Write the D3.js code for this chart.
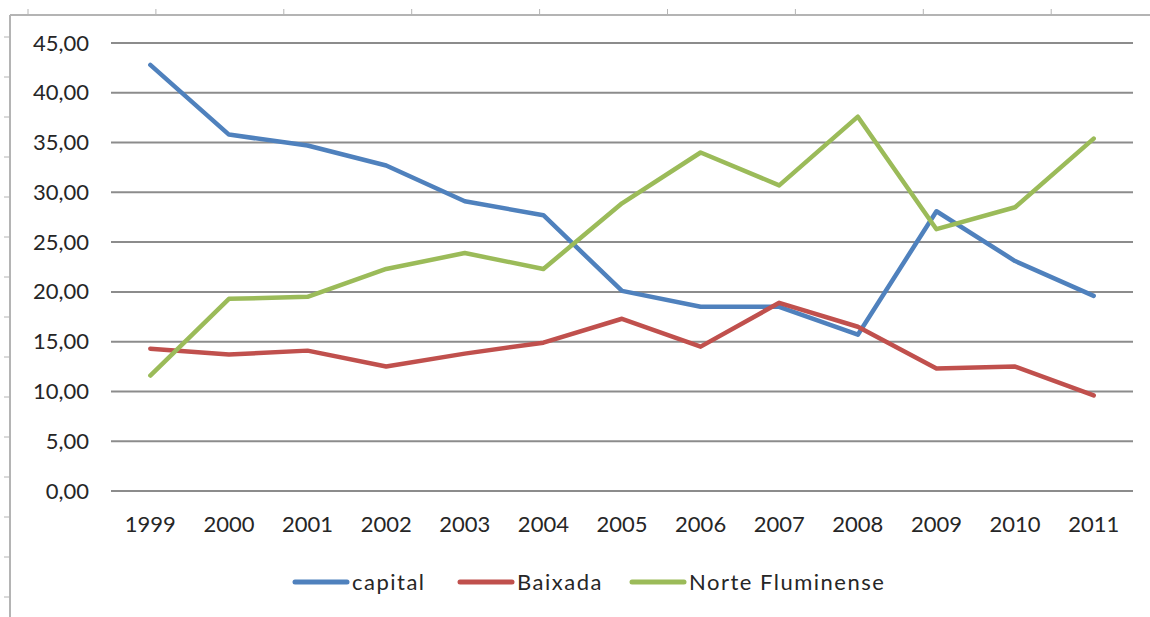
<!DOCTYPE html>
<html>
<head>
<meta charset="utf-8">
<script src="https://cdn.jsdelivr.net/npm/d3@7"></script>
<style>
  body { margin: 0; background: #fff; }
  svg { font-family: Lato, "Open Sans", sans-serif; }
</style>
</head>
<body>
<svg width="1150" height="617"></svg>
<script>
const years = ["1999","2000","2001","2002","2003","2004","2005","2006","2007","2008","2009","2010","2011"];
const capital = [42.8, 35.8, 34.7, 32.7, 29.1, 27.7, 20.1, 18.5, 18.5, 15.7, 28.1, 23.1, 19.6];
const baixada = [14.3, 13.7, 14.1, 12.5, 13.8, 14.9, 17.3, 14.5, 18.9, 16.5, 12.3, 12.5, 9.6];
const norteFluminense = [11.6, 19.3, 19.5, 22.3, 23.9, 22.3, 28.9, 34.0, 30.7, 37.6, 26.3, 28.5, 35.4];
const seriesNames = ["capital", "Baixada", "Norte Fluminense"];
const seriesColors = ["#4f81bd", "#c0504d", "#9bbb59"];
const yTicks = [0, 5, 10, 15, 20, 25, 30, 35, 40, 45];

const svg = d3.select("svg");
const textColor = "#262626";

// moldura tipo planilha
const frame = svg.append("g").attr("stroke", "#b4b4b4").attr("stroke-width", 2);
frame.append("line").attr("x1", 10).attr("x2", 1150).attr("y1", 15).attr("y2", 15);
frame.append("line").attr("x1", 10).attr("x2", 10).attr("y1", 15).attr("y2", 617);
d3.range(28, 1150, 127.9).forEach(x => {
  frame.append("line").attr("x1", x).attr("x2", x).attr("y1", 9).attr("y2", 15).attr("stroke-width", 1);
});
d3.range(37, 617, 40).forEach(y => {
  frame.append("line").attr("x1", 4).attr("x2", 10).attr("y1", y).attr("y2", y).attr("stroke-width", 1);
});

const x = d3.scaleBand().domain(years).range([111, 1133]);
const y = d3.scaleLinear().domain([0, 45]).range([491, 43]);

const ptBR = d3.formatLocale({ decimal: ",", thousands: ".", grouping: [3], currency: ["R$", ""] });
const fmt = ptBR.format(".2f");

// grade horizontal
svg.append("g")
  .selectAll("line")
  .data(yTicks)
  .join("line")
  .attr("x1", 111).attr("x2", 1133)
  .attr("y1", d => y(d)).attr("y2", d => y(d))
  .attr("stroke", "#8c8c8c").attr("stroke-width", 2);

// eixo y
const yAxis = svg.append("g")
  .attr("transform", "translate(111,0)")
  .call(d3.axisLeft(y).tickValues(yTicks).tickFormat(fmt).tickSize(0).tickPadding(22));
yAxis.select(".domain").remove();
yAxis.selectAll("text").attr("font-size", 22).attr("fill", textColor).attr("font-family", "Lato, sans-serif");

// eixo x
const xAxis = svg.append("g")
  .attr("transform", "translate(0,491)")
  .call(d3.axisBottom(x).tickSize(0).tickPadding(25));
xAxis.select(".domain").remove();
xAxis.selectAll("text").attr("font-size", 22).attr("fill", textColor).attr("font-family", "Lato, sans-serif");

// linhas
const allSeries = [capital, baixada, norteFluminense];
const line = d3.line()
  .x((d, i) => x(years[i]) + x.bandwidth() / 2)
  .y(d => y(d));

svg.append("g")
  .selectAll("path")
  .data(allSeries)
  .join("path")
  .attr("d", line)
  .attr("fill", "none")
  .attr("stroke", (d, i) => seriesColors[i])
  .attr("stroke-width", 4.5)
  .attr("stroke-linejoin", "round")
  .attr("stroke-linecap", "round");

// legenda
const legendX = [295, 460, 632];
const legend = svg.append("g")
  .selectAll("g")
  .data(seriesNames)
  .join("g")
  .attr("transform", (d, i) => `translate(${legendX[i]},582)`);
legend.append("line")
  .attr("x1", 0).attr("x2", 52)
  .attr("stroke", (d, i) => seriesColors[i])
  .attr("stroke-width", 5)
  .attr("stroke-linecap", "round");
legend.append("text")
  .attr("x", 57).attr("dy", "0.35em")
  .attr("font-size", 22).attr("fill", textColor)
  .attr("letter-spacing", 1.5)
  .text(d => d);
</script>
</body>
</html>
